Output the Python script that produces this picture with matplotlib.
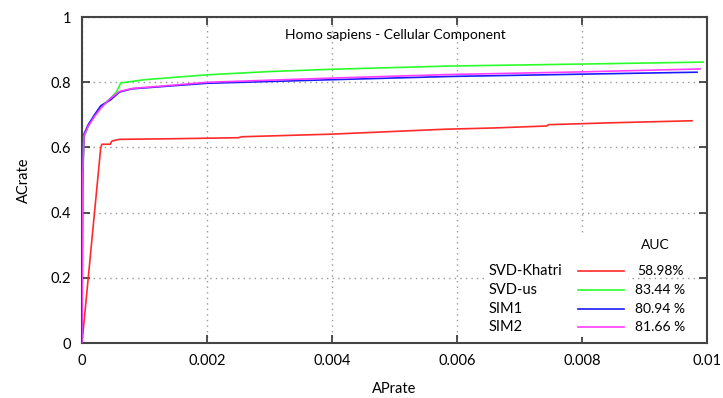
import matplotlib
matplotlib.use("Agg")
import matplotlib.pyplot as plt
from matplotlib.patches import Rectangle
from matplotlib.ticker import FuncFormatter

# curves (x = APrate, y = ACrate)
khatri_x = [0, 0.0003, 0.00032, 0.00045, 0.00048, 0.0006, 0.0015, 0.0025, 0.00256,
            0.004, 0.0058, 0.0066, 0.00744, 0.00746, 0.0085, 0.00976]
khatri_y = [0, 0.60, 0.61, 0.61, 0.62, 0.625, 0.627, 0.630, 0.633,
            0.641, 0.656, 0.660, 0.666, 0.670, 0.676, 0.682]

svdus_x = [0, 0.00001, 0.00003, 0.0001, 0.0002, 0.0003, 0.00045, 0.00055, 0.00062,
           0.001, 0.002, 0.003, 0.004, 0.0059, 0.008, 0.00994]
svdus_y = [0, 0.45, 0.63, 0.665, 0.70, 0.725, 0.75, 0.77, 0.798,
           0.808, 0.823, 0.833, 0.840, 0.850, 0.856, 0.862]

sim1_x = [0, 0.00001, 0.00003, 0.0001, 0.0002, 0.0003, 0.00045, 0.0006, 0.0008,
          0.0015, 0.002, 0.004, 0.0059, 0.008, 0.00984]
sim1_y = [0, 0.5, 0.64, 0.67, 0.70, 0.728, 0.745, 0.77, 0.78,
          0.79, 0.797, 0.808, 0.818, 0.825, 0.831]

sim2_x = [0, 0.00001, 0.00003, 0.0001, 0.0002, 0.0003, 0.00045, 0.0006, 0.0008,
          0.0015, 0.002, 0.004, 0.0059, 0.008, 0.00989]
sim2_y = [0, 0.5, 0.635, 0.665, 0.695, 0.72, 0.75, 0.772, 0.781,
          0.792, 0.80, 0.813, 0.824, 0.832, 0.841]

names = ["SVD-Khatri", "SVD-us", "SIM1", "SIM2"]
auc = ["58.98%", "83.44 %", "80.94 %", "81.66 %"]
colors = ["#ff2a2a", "#2aff2a", "#1a1aff", "#ff3cff"]
series = [(khatri_x, khatri_y), (svdus_x, svdus_y), (sim1_x, sim1_y), (sim2_x, sim2_y)]

plt.rcParams.update({
    "font.family": ["Lato", "DejaVu Sans"],
    "font.size": 10,
})

fig = plt.figure(figsize=(7.23, 3.98), dpi=100)
ax = fig.add_axes([0.1134, 0.138, 0.8645, 0.819])

for (x, y), c in zip(series, colors):
    ax.plot(x, y, color=c, lw=1.2, zorder=3)

ax.set_xlim(0, 0.01)
ax.set_ylim(0, 1)
ax.set_xticks([0, 0.002, 0.004, 0.006, 0.008, 0.01])
ax.set_yticks([0, 0.2, 0.4, 0.6, 0.8, 1])
ax.xaxis.set_major_formatter(FuncFormatter(lambda v, p: f"{v:g}"))
ax.yaxis.set_major_formatter(FuncFormatter(lambda v, p: f"{v:g}"))
ax.tick_params(direction="in", length=6, width=1.2, top=True, right=True,
               color="#333333", labelsize=10.5, pad=8)
for s in ax.spines.values():
    s.set_color("#444444")
    s.set_linewidth(1.5)
ax.grid(True, linestyle=(0, (1, 3)), color="#999999", lw=1)

ax.set_xlabel("APrate", fontsize=10.5, labelpad=10)
ax.set_ylabel("ACrate", fontsize=10.5, labelpad=14)
ax.text(0.502, 0.945, "Homo sapiens - Cellular Component", transform=ax.transAxes,
        ha="center", va="center", fontsize=10)

# key, drawn by hand in gnuplot layout: label, sample line, AUC
ax.add_patch(Rectangle((0.644, 0.02), 0.23, 0.31, transform=ax.transAxes,
                       facecolor="white", edgecolor="none", zorder=2))
ax.text(0.917, 0.3, "AUC", transform=ax.transAxes, ha="center", va="center", fontsize=10, zorder=4)
row_y = [0.222, 0.163, 0.105, 0.05]
for name, a, c, ry in zip(names, auc, colors, row_y):
    ax.text(0.651, ry, name, transform=ax.transAxes, ha="left", va="center",
            fontsize=10.5, zorder=4)
    ax.plot([0.794, 0.867], [ry, ry], color=c, lw=1.2, transform=ax.transAxes, zorder=4)
    ax.text(0.925, ry, a, transform=ax.transAxes, ha="center", va="center",
            fontsize=10, zorder=4)

fig.savefig("out.png", dpi=100, facecolor="white")
